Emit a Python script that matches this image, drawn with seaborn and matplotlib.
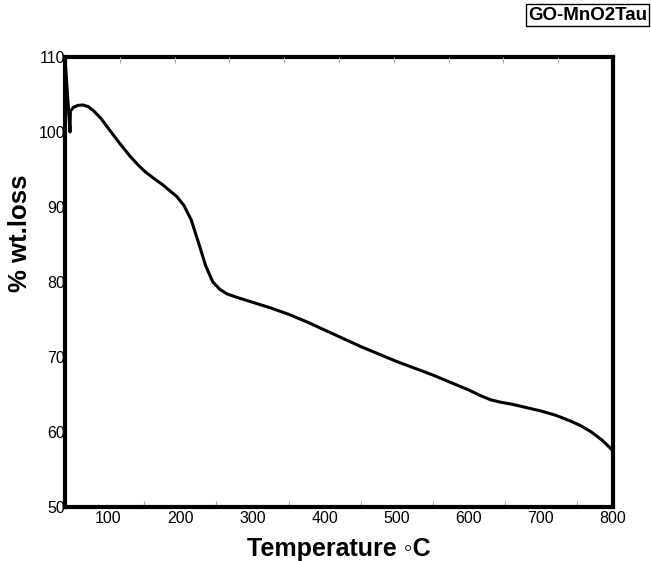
import matplotlib
matplotlib.use("Agg")
import matplotlib.pyplot as plt
import seaborn as sns
import pandas as pd

temperature = [40, 47, 47.5, 52, 58, 65, 72, 80, 90, 100, 115, 130, 140, 150, 162, 175, 195, 205,
               215, 225, 235, 245, 255, 265, 280, 300, 325, 350, 375, 400, 450, 500, 550, 600,
               615, 630, 645, 660, 700, 720, 740, 755, 770, 785, 800]
wt_loss = [110, 100, 102.8, 103.3, 103.55, 103.6, 103.4, 102.8, 101.8, 100.5, 98.6, 96.8, 95.75,
           94.8, 93.9, 93.0, 91.4, 90.2, 88.3, 85.3, 82.2, 80.0, 79.0, 78.4, 77.9, 77.3, 76.55,
           75.7, 74.7, 73.6, 71.4, 69.4, 67.6, 65.6, 64.9, 64.3, 63.95, 63.7, 62.8, 62.25, 61.5,
           60.85, 60.0, 58.9, 57.5]
x_ticks = [100, 200, 300, 400, 500, 600, 700, 800]
y_ticks = [50, 60, 70, 80, 90, 100, 110]
minor_x = [150, 250, 350, 450, 550, 650, 750]
top_x = [116, 192, 268, 344, 420, 496, 572, 648, 724]
legend_text = "GO-MnO2Tau"

sns.set_theme(style="white")
plt.rcParams['font.family'] = ['Liberation Sans', 'DejaVu Sans']
plt.rcParams['text.color'] = 'black'
plt.rcParams['axes.labelcolor'] = 'black'
plt.rcParams['xtick.color'] = 'black'
plt.rcParams['ytick.color'] = 'black'

df = pd.DataFrame({"T": temperature, "W": wt_loss})

fig = plt.figure(figsize=(6.51, 5.61), dpi=100)
ax = fig.add_axes([0.0998, 0.0963, 0.8418, 0.8021])
sns.lineplot(data=df, x="T", y="W", ax=ax, color="black", linewidth=2.2,
             estimator=None, sort=False)

ax.set_xlim(40, 800)
ax.set_ylim(50, 110)
ax.set_xticks(x_ticks)
ax.set_xticks(minor_x, minor=True)
ax.set_yticks(y_ticks)
ax.set_xticklabels([str(v) for v in x_ticks])
ax.set_yticklabels([str(v) for v in y_ticks])
ax.tick_params(axis='x', which='major', length=0, pad=3, labelsize=11.5, labelcolor='black')
ax.tick_params(axis='x', which='minor', length=4, width=0.8, direction='in',
               color='#aaaaaa', bottom=True, top=False)
ax.tick_params(axis='y', which='major', length=0, pad=0, labelsize=11.5, labelcolor='black')

top = ax.twiny()
top.set_xlim(40, 800)
top.set_xticks(top_x)
top.set_xticklabels([])
top.tick_params(axis='x', length=4, width=0.8, direction='in', color='#aaaaaa')
for s in top.spines.values():
    s.set_visible(False)

for s in ax.spines.values():
    s.set_visible(True)
    s.set_color('black')
    s.set_linewidth(3)
    s.set_zorder(5)

ax.set_xlabel("Temperature \u25e6C", fontsize=18, fontweight='bold', labelpad=8, color='black')
ax.set_ylabel("% wt.loss", fontsize=18.5, fontweight='bold', color='black')
ax.yaxis.set_label_coords(-0.060, 0.609)

fig.text(0.994, 0.973, legend_text, ha='right', va='center', fontsize=13.5, fontweight='bold',
         color='black',
         bbox=dict(boxstyle='square,pad=0.12', facecolor='white', edgecolor='black', linewidth=1))

fig.savefig("out.png", dpi=100)
